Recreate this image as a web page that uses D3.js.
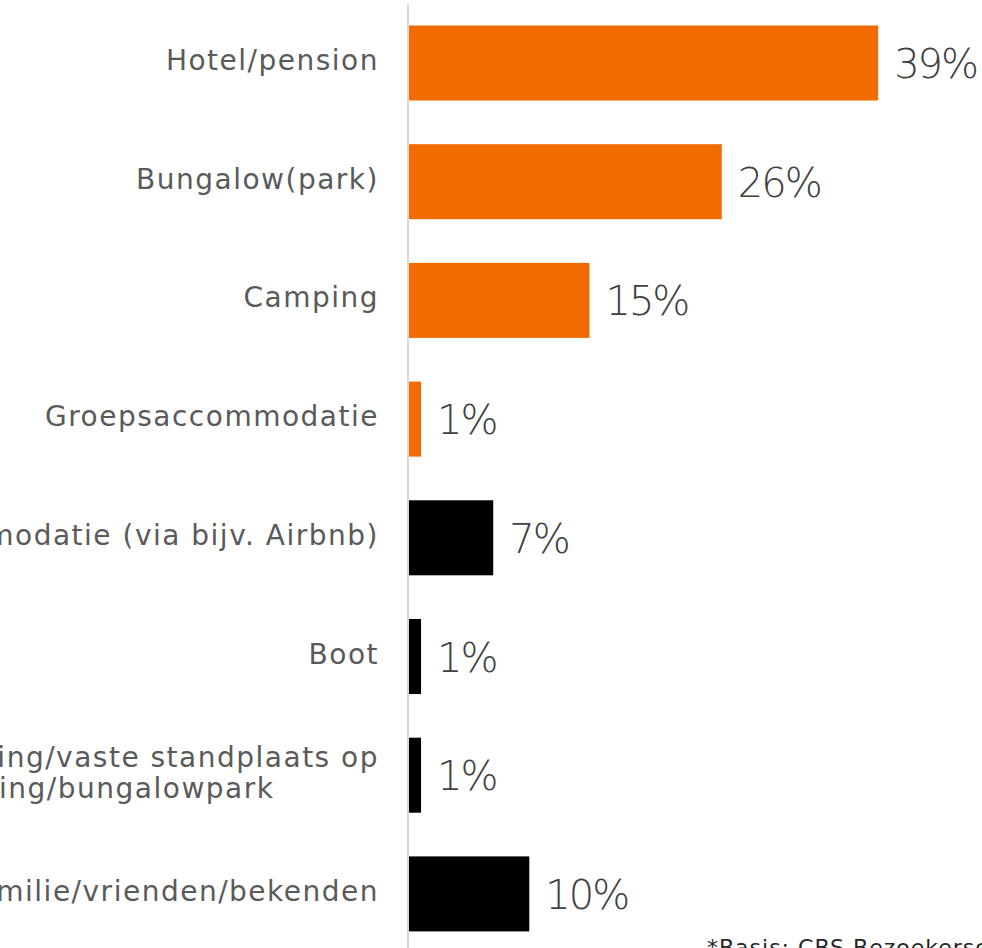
<!DOCTYPE html>
<html>
<head>
<meta charset="utf-8">
<script src="https://cdn.jsdelivr.net/npm/d3@7"></script>
<style>
  html, body { margin: 0; padding: 0; background: #fff; overflow: hidden; }
  svg { display: block; }
  text { font-family: "DejaVu Sans", sans-serif; }
</style>
</head>
<body>
<svg id="chart" width="982" height="948"></svg>
<script>
// Overnight accommodation types, share of visitors (%)
const categories = [
  "Hotel/pension",
  "Bungalow(park)",
  "Camping",
  "Groepsaccommodatie",
  "Particuliere accommodatie (via bijv. Airbnb)",
  "Boot",
  "Tweede woning/vaste standplaats op|camping/bungalowpark",
  "Bij familie/vrienden/bekenden"
];
const values = [39, 26, 15, 1, 7, 1, 1, 10];
// commercial accommodation in orange, the rest in black
const groups = ["commercieel", "commercieel", "commercieel", "commercieel",
                "overig", "overig", "overig", "overig"];
const footnote = "*Basis: CBS Bezoekersonderzoek";

const svg = d3.select("#chart");
const W = 982, H = 948;

const x = d3.scaleLinear().domain([0, 40]).range([409, 890.2]);
const y = d3.scaleBand()
  .domain(categories)
  .range([3.65, 953.25])
  .paddingInner(0.368)
  .paddingOuter(0.184);
const color = d3.scaleOrdinal().domain(["commercieel", "overig"]).range(["#F26B00", "#000000"]);

const data = categories.map((c, i) => ({ cat: c, value: values[i], group: groups[i] }));

// bars
svg.append("g").selectAll("rect")
  .data(data)
  .join("rect")
  .attr("x", x(0))
  .attr("y", d => y(d.cat))
  .attr("width", d => x(d.value) - x(0))
  .attr("height", y.bandwidth())
  .attr("fill", d => color(d.group));

// category axis line
svg.append("line")
  .attr("x1", 408).attr("x2", 408)
  .attr("y1", 4).attr("y2", H)
  .attr("stroke", "#d9d9d9")
  .attr("stroke-width", 2);

// category labels: block right-aligned against the axis, wrapped lines centred ("|" = line break)
const labelRight = 379;
const labels = svg.append("g").selectAll("text")
  .data(data)
  .join("text")
  .attr("text-anchor", "middle")
  .attr("fill", "#5a5a5a")
  .attr("font-size", 28)
  .attr("letter-spacing", 1.5);
labels.each(function (d) {
  const lines = d.cat.split("|");
  const t = d3.select(this);
  const lh = 31;
  const y0 = y(d.cat) + y.bandwidth() / 2 + 7 - (lines.length - 1) * lh / 2;
  const spans = lines.map((ln, i) =>
    t.append("tspan").attr("y", y0 + i * lh).text(ln));
  const widest = d3.max(spans, s => s.node().getComputedTextLength());
  spans.forEach(s => s.attr("x", labelRight - widest / 2));
});

// value labels
svg.append("g").selectAll("text")
  .data(data)
  .join("text")
  .attr("x", d => x(d.value) + 16)
  .attr("y", d => y(d.cat) + y.bandwidth() / 2 + 15)
  .attr("fill", "#404040")
  .attr("font-size", 40)
  .attr("font-weight", 200)
  .attr("letter-spacing", -2)
  .text(d => d3.format("d")(d.value) + "%");

// source note
svg.append("text")
  .attr("x", 707)
  .attr("y", 955)
  .attr("fill", "#262626")
  .attr("font-size", 22)
  .attr("letter-spacing", 1)
  .text(footnote);
</script>
</body>
</html>
